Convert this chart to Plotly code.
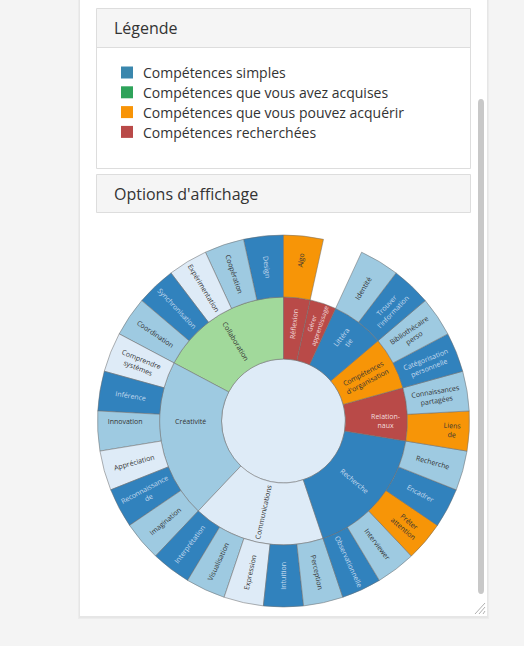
import plotly.graph_objects as go

W, H = 524, 646

# ---------------- data ----------------
legend_items = ["Compétences simples", "Compétences que vous avez acquises",
                "Compétences que vous pouvez acquérir", "Compétences recherchées"]
legend_colors = ["#3a87ad", "#2ea35a", "#f89406", "#b94a48"]

# middle ring, clockwise from 12 o'clock
categories = ["Réflexion", "Gérer apprentissage", "Littératie", "Compétences d'organisation",
              "Relationnels", "Recherche", "Communications", "Créativité", "Collaboration"]
category_text = ["Réflexion", "Gérer<br>apprentissage", "Littéra<br>tie", "Compétences<br>d'organisation",
                 "Relation-<br>naux", "Recherche", "Communications", "Créativité", "Collaboration"]
category_kind = ["red", "red", "dark", "orange", "red", "dark", "pale", "light", "green"]
category_values = [0, 1, 0, 0, 0, 0, 0, 0, 0]

# outer ring, clockwise from 12 o'clock
skills = ["Algo", "Identité", "Trouver l'information", "Bibliothécaire perso",
          "Catégorisation personnelle", "Connaissances partagées", "Liens de",
          "Recherche (s)", "Encadrer", "Prêter attention", "Interviewer", "Observationnelle",
          "Perception", "Intuition", "Expression", "Visualisation", "Interprétation",
          "Imagination", "Reconnaissance de", "Appréciation", "Innovation", "Inférence",
          "Comprendre systèmes",
          "Coordination", "Synchronisation", "Expérimentation", "Coopération", "Design"]
skill_text = ["Algo", "Identité", "Trouver<br>l'information", "Bibliothécaire<br>perso",
              "Catégorisation<br>personnelle", "Connaissances<br>partagées", "Liens<br>de",
              "Recherche", "Encadrer", "Prêter<br>attention", "Interviewer", "Observationnelle",
              "Perception", "Intuition", "Expression", "Visualisation", "Interprétation",
              "Imagination", "Reconnaissance<br>de", "Appréciation", "Innovation", "Inférence",
              "Comprendre<br>systèmes",
              "Coordination", "Synchronisation", "Expérimentation", "Coopération", "Design"]
skill_parent = ["Réflexion", "Littératie", "Littératie", "Compétences d'organisation",
                "Compétences d'organisation", "Relationnels", "Relationnels",
                "Recherche", "Recherche", "Recherche", "Recherche", "Recherche",
                "Communications", "Communications", "Communications", "Communications", "Communications",
                "Créativité", "Créativité", "Créativité", "Créativité", "Créativité", "Créativité",
                "Collaboration", "Collaboration", "Collaboration", "Collaboration", "Collaboration"]
skill_kind = ["orange", "light", "dark", "light", "dark", "light", "orange",
              "light", "dark", "orange", "light", "dark",
              "light", "dark", "pale", "light", "dark",
              "light", "dark", "pale", "light", "dark", "pale",
              "light", "dark", "pale", "light", "dark"]
skill_values = [1, 1, 1, 1, 1, 1, 1, 1, 1, 1, 1, 1, 1, 1, 1, 1, 1,
                1, 1, 1, 1, 1, 1, 1, 1, 1, 1, 1]

# ---------------- styles ----------------
fill = {"dark": "#3182bd", "light": "#9ecae1", "pale": "#deebf7",
        "orange": "#f79507", "red": "#b94a48", "green": "#a1d99b"}
ink = {"dark": "#c6dbef", "light": "#333333", "pale": "#333333",
       "orange": "#333333", "red": "#f2dede", "green": "#333333"}

# plotly lays sectors counterclockwise -> reverse order
ids = ["root"]
labels = [" "]
parents = [""]
values = [0]
colors = ["#deebf7"]
tcols = ["#333333"]
for c, t, k, v in reversed(list(zip(categories, category_text, category_kind, category_values))):
    ids.append("c:" + c); labels.append(t); parents.append("root"); values.append(v)
    colors.append(fill[k]); tcols.append(ink[k])
for s, t, p, k, v in reversed(list(zip(skills, skill_text, skill_parent, skill_kind, skill_values))):
    ids.append("s:" + s); labels.append(t); parents.append("c:" + p); values.append(v)
    colors.append(fill[k]); tcols.append(ink[k])


def px(x):
    return x / W


def py(y):
    return 1 - y / H


fig = go.Figure(go.Sunburst(
    ids=ids, labels=labels, parents=parents, values=values,
    branchvalues="remainder", sort=False, rotation=90,
    marker=dict(colors=colors, line=dict(color="rgba(110,110,110,0.75)", width=0.7)),
    leaf=dict(opacity=1),
    textinfo="label", insidetextorientation="radial",
    insidetextfont=dict(family="Open Sans", size=7, color=tcols),
    hoverinfo="label",
    domain=dict(x=[px(97.5), px(469.5)], y=[py(607), py(235)]),
))

shapes = []
annotations = []


def rect(x0, y0, x1, y1, fillc, linec=None, lw=0):
    shapes.append(dict(type="rect", xref="paper", yref="paper", layer="below",
                       x0=px(x0), x1=px(x1), y0=py(y1), y1=py(y0),
                       fillcolor=fillc, line=dict(color=linec or fillc, width=lw)))


# page panel with soft shadow
rect(78, 0, 489, 619, "#ececec")
rect(79, 0, 488, 618, "#e6e6e6")
rect(80, 0, 487, 616, "#ffffff")
# legend panel
rect(96.5, 8.5, 470.5, 168.5, "#ffffff", "#dddddd", 1)
rect(97, 9, 470, 47, "#f5f5f5")
shapes.append(dict(type="line", xref="paper", yref="paper", layer="below",
                   x0=px(97), x1=px(470), y0=py(47.5), y1=py(47.5), line=dict(color="#dddddd", width=1)))
# options panel
rect(96.5, 174.5, 470.5, 212.5, "#f5f5f5", "#dddddd", 1)
# scrollbar
shapes.append(dict(type="path", xref="paper", yref="paper", layer="below",
                   path=f"M {px(478)} {py(103)} Q {px(478)} {py(99)} {px(481)} {py(99)} "
                        f"Q {px(484)} {py(99)} {px(484)} {py(103)} L {px(484)} {py(590)} "
                        f"Q {px(484)} {py(594)} {px(481)} {py(594)} Q {px(478)} {py(594)} {px(478)} {py(590)} Z",
                   fillcolor="#c8c8c8", line=dict(width=0)))
# resize grip
for off in (0, 4, 8):
    shapes.append(dict(type="line", xref="paper", yref="paper", layer="below",
                       x0=px(485), y0=py(603 + off), x1=px(475 + off), y1=py(614),
                       line=dict(color="#b0b0b0", width=1)))

annotations.append(dict(text="Légende", x=px(112), y=py(28), xref="paper", yref="paper",
                        xanchor="left", yanchor="middle", showarrow=False,
                        font=dict(family="Open Sans", size=16, color="#333333")))
annotations.append(dict(text="Options d'affichage", x=px(112), y=py(194), xref="paper", yref="paper",
                        xanchor="left", yanchor="middle", showarrow=False,
                        font=dict(family="Open Sans", size=16, color="#333333")))
for i, (t, c) in enumerate(zip(legend_items, legend_colors)):
    yc = 72.5 + i * 19.8
    shapes.append(dict(type="rect", xref="paper", yref="paper", layer="below",
                       x0=px(121), x1=px(133), y0=py(yc + 6), y1=py(yc - 6),
                       fillcolor=c, line=dict(color=c, width=0)))
    annotations.append(dict(text=t, x=px(140.5), y=py(yc + 0.5), xref="paper", yref="paper",
                            xanchor="left", yanchor="middle", showarrow=False,
                            font=dict(family="Open Sans", size=14, color="#333333")))

fig.update_layout(
    width=W, height=H, margin=dict(l=0, r=0, t=0, b=0),
    paper_bgcolor="#f4f4f4", plot_bgcolor="#f4f4f4",
    shapes=shapes, annotations=annotations, showlegend=False,
)

fig.write_html("out.html", config={"displayModeBar": False})
